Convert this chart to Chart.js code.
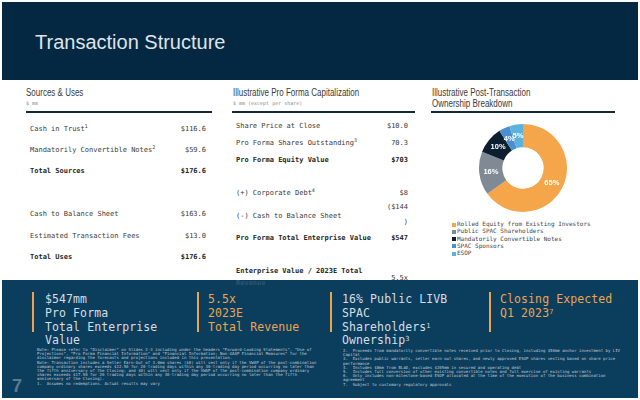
<!DOCTYPE html>
<html>
<head>
<meta charset="utf-8">
<script src="https://cdn.jsdelivr.net/npm/chart.js@4.4.0/dist/chart.umd.min.js"></script>
<style>
  html, body { margin: 0; padding: 0; }
  body { width: 640px; height: 400px; position: relative; background: #ffffff; overflow: hidden; }
  .abs { position: absolute; white-space: nowrap; }
  #header { left: 2px; top: 2px; width: 636px; height: 78px; background: #042842; }
  #title { left: 35px; top: 31px; font: 20px "Liberation Sans", Arial, sans-serif; color: #dfe4ea; }
  .head { font: 10px "Liberation Sans", sans-serif; color: #3a3a3a; line-height: 11px; transform: scaleX(0.8); transform-origin: left top; }
  .sub { font: 5px "DejaVu Sans Mono", monospace; color: #8a8a8a; }
  .rule { height: 2px; background: #14283a; }
  .row { font: 7px "DejaVu Sans Mono", monospace; color: #3a3a3a; line-height: 10px; }
  .row.b { font-weight: bold; color: #262626; }
  .val { text-align: right; }
  sup { font-size: 5px; line-height: 0; vertical-align: 3px; }
  #band { left: 2px; top: 280px; width: 636px; height: 118px; background: #0b3d5c; }
  .bar { width: 2px; background: #f0a24a; }
  .stat { font: 11.5px "DejaVu Sans Mono", monospace; line-height: 13.8px; letter-spacing: 0.1px; }
  .light { color: #d6dde5; }
  .orange { color: #eca552; }
  .note { font: 4px "DejaVu Sans Mono", monospace; color: #c3ccd6; line-height: 4.2px; white-space: normal; }
  #legend { left: 452px; top: 220px; font: 6px "DejaVu Sans Mono", monospace; color: #444; line-height: 7.3px; }
  #legend span.m { display: inline-block; width: 4px; height: 4px; margin-right: 1px; vertical-align: -0.5px; }
</style>
</head>
<body>
<div id="header" class="abs"></div>
<div id="title" class="abs">Transaction Structure</div>

<!-- Sources & Uses -->
<div class="abs head" style="left:26px; top:87px;">Sources &amp; Uses</div>
<div class="abs sub" style="left:26px; top:100px;">$ mm</div>
<div class="abs rule" style="left:26px; top:111px; width:186px;"></div>
<div class="abs row" style="left:30px; top:124px;">Cash in Trust<sup>1</sup></div>
<div class="abs row val" style="right:434px; top:124px;">$116.6</div>
<div class="abs row" style="left:30px; top:145px;">Mandatorily Convertible Notes<sup>2</sup></div>
<div class="abs row val" style="right:434px; top:145px;">$59.6</div>
<div class="abs row b" style="left:30px; top:166px;">Total Sources</div>
<div class="abs row b val" style="right:434px; top:166px;">$176.6</div>
<div class="abs row" style="left:30px; top:209px;">Cash to Balance Sheet</div>
<div class="abs row val" style="right:434px; top:209px;">$163.6</div>
<div class="abs row" style="left:30px; top:231px;">Estimated Transaction Fees</div>
<div class="abs row val" style="right:434px; top:231px;">$13.0</div>
<div class="abs row b" style="left:30px; top:252px;">Total Uses</div>
<div class="abs row b val" style="right:434px; top:252px;">$176.6</div>

<!-- Pro Forma Capitalization -->
<div class="abs head" style="left:233px; top:87px;">Illustrative Pro Forma Capitalization</div>
<div class="abs sub" style="left:233px; top:100px;">$ mm (except per share)</div>
<div class="abs rule" style="left:232px; top:111px; width:183px;"></div>
<div class="abs row" style="left:236px; top:121px;">Share Price at Close</div>
<div class="abs row val" style="right:232px; top:121px;">$10.0</div>
<div class="abs row" style="left:236px; top:138px;">Pro Forma Shares Outstanding<sup>3</sup></div>
<div class="abs row val" style="right:232px; top:138px;">70.3</div>
<div class="abs row b" style="left:236px; top:155px;">Pro Forma Equity Value</div>
<div class="abs row b val" style="right:232px; top:155px;">$703</div>
<div class="abs row" style="left:236px; top:188px;">(+) Corporate Debt<sup>4</sup></div>
<div class="abs row val" style="right:232px; top:188px;">$8</div>
<div class="abs row" style="left:236px; top:211px;">(-) Cash to Balance Sheet</div>
<div class="abs row val" style="right:232px; top:202px;">($144</div>
<div class="abs row val" style="right:232px; top:217px;">)</div>
<div class="abs row b" style="left:236px; top:233px;">Pro Forma Total Enterprise Value</div>
<div class="abs row b val" style="right:232px; top:233px;">$547</div>
<div class="abs row b" style="left:236px; top:266px;">Enterprise Value / 2023E Total</div>
<div class="abs row val" style="right:232px; top:273px;">5.5x</div>

<!-- Ownership -->
<div class="abs head" style="left:432px; top:87px;">Illustrative Post-Transaction<br>Ownership Breakdown</div>
<div class="abs rule" style="left:431px; top:111px; width:184px;"></div>
<canvas id="donut" class="abs" width="90" height="90" style="left:478px; top:123px;"></canvas>
<div id="legend" class="abs"></div>

<!-- bottom band -->
<div id="band" class="abs"></div>
<div class="abs row b" style="left:236px; top:278px; color:#2b5773;">Revenue</div>

<div class="abs bar" style="left:32px; top:292px; height:40px;"></div>
<div class="abs stat light" style="left:45px; top:293px;">$547mm<br>Pro Forma<br>Total Enterprise<br>Value</div>
<div class="abs bar" style="left:197px; top:292px; height:40px;"></div>
<div class="abs stat orange" style="left:208px; top:293px;">5.5x<br>2023E<br>Total Revenue</div>
<div class="abs bar" style="left:330px; top:292px; height:40px;"></div>
<div class="abs stat light" style="left:342px; top:293px;">16% Public LIVB<br>SPAC<br>Shareholders<sup style="font-size:7px">1</sup><br>Ownership<sup style="font-size:7px">3</sup></div>
<div class="abs bar" style="left:489px; top:292px; height:40px;"></div>
<div class="abs stat orange" style="left:500px; top:293px;">Closing Expected<br>Q1 2023<sup style="font-size:7px">7</sup></div>

<div class="abs note" style="left:37px; top:348px; width:280px;">Note: Please refer to "Disclaimer" on Slides 2-3 including under the headers "Forward-Looking Statements", "Use of Projections", "Pro Forma Financial Information" and "Financial Information; Non-GAAP Financial Measures" for the disclaimer regarding the forecasts and projections included in this presentation.<br>Note: Transaction includes a Seller Earn-Out of 3.0mm shares ($0) will vest only if the VWAP of the post-combination company ordinary shares exceeds $12.50 for 20 trading days within any 30-trading day period occurring no later than the fifth anniversary of the Closing; and $0) will vest only if the VWAP of the post-combination company ordinary shares exceeds $17.50 for 20 trading days within any 30-trading day period occurring no later than the fifth anniversary of the Closing).<br>1. &nbsp;Assumes no redemptions. Actual results may vary</div>
<div class="abs note" style="left:343px; top:349px; width:282px;">2. &nbsp;Proceeds from mandatorily convertible notes received prior to Closing, including $50mm anchor investment by LIV Capital<br>3. &nbsp;Excludes public warrants, seller earn-out shares, and newly approved ESOP shares vesting based on share price performance<br>4. &nbsp;Includes $8mm from BLaD, excludes $205mm in secured and operating debt<br>5. &nbsp;Includes full conversion of other existing convertible notes and full exercise of existing warrants<br>6. &nbsp;Only includes non-milestone-based ESOP allocated at the time of the execution of the business combination agreement<br>7. &nbsp;Subject to customary regulatory approvals</div>
<div class="abs" style="left:12px; top:376px; font:bold 18px 'Liberation Sans', sans-serif; color:#5f7a8e;">7</div>

<script>
// ownership data
const ownerLabels = [
  "Rolled Equity from Existing Investors",
  "Public SPAC Shareholders",
  "Mandatorily Convertible Notes",
  "SPAC Sponsors",
  "ESOP"
];
const ownerValues = [65, 16, 10, 4, 5];
const ownerColors = ["#f5a54a", "#7f8a94", "#0c1f31", "#4a8fd0", "#5cb2dd"];

// percent labels inside slices
const sliceLabels = {
  id: "sliceLabels",
  afterDatasetsDraw(chart) {
    const ctx = chart.ctx;
    const meta = chart.getDatasetMeta(0);
    ctx.save();
    ctx.fillStyle = "#ffffff";
    ctx.font = "bold 7.5px 'Liberation Sans', sans-serif";
    ctx.textAlign = "center";
    ctx.textBaseline = "middle";
    meta.data.forEach((arc, i) => {
      const p = arc.tooltipPosition();
      ctx.fillText(chart.data.datasets[0].data[i] + "%", p.x, p.y);
    });
    ctx.restore();
  }
};

const chart = new Chart(document.getElementById("donut"), {
  type: "doughnut",
  data: {
    labels: ownerLabels,
    datasets: [{
      data: ownerValues,
      backgroundColor: ownerColors,
      borderWidth: 0
    }]
  },
  options: {
    responsive: false,
    animation: false,
    cutout: "47%",
    layout: { padding: 1 },
    plugins: { legend: { display: false }, tooltip: { enabled: false } }
  },
  plugins: [sliceLabels]
});

// legend from the chart's own labels
const legendEl = document.getElementById("legend");
chart.options.plugins.legend.labels.generateLabels(chart).forEach((item) => {
  const line = document.createElement("div");
  line.innerHTML = '<span class="m" style="background:' + item.fillStyle + '"></span>' + item.text;
  legendEl.appendChild(line);
});
</script>
</body>
</html>
